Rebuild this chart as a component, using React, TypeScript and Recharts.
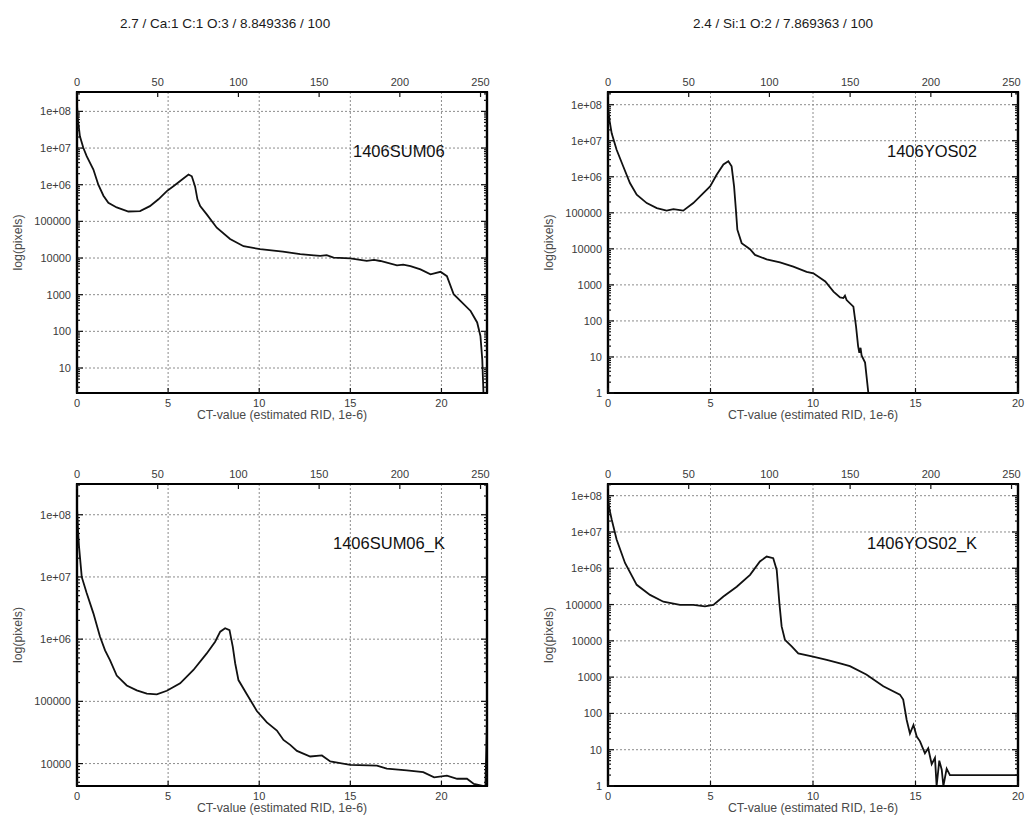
import React from 'react';
import { LineChart, Line, XAxis, YAxis, CartesianGrid, ReferenceArea } from 'recharts';

const FONT = '"Liberation Sans", Arial, Helvetica, sans-serif';

// ---- tick values and labels ----
const decadeValues = [1, 10, 100, 1000, 10000, 100000, 1e6, 1e7, 1e8];
const decadeLabels = ['1', '10', '100', '1000', '10000', '100000', '1e+06', '1e+07', '1e+08'];
const ctTicks = [0, 5, 10, 15, 20];
const binTicks = [0, 50, 100, 150, 200, 250];

// ---- 1406SUM06 ----
const sum06Ct = [0, 0.05, 0.16, 0.35, 0.53, 0.9, 1.17, 1.45, 1.72, 2.18, 2.82, 3.46, 4.0, 4.47, 4.93, 5.29, 5.75, 6.12, 6.3, 6.48, 6.61, 6.76, 7.12, 7.67, 8.4, 9.14, 10.05, 11.3, 12.25, 13.0, 13.35, 13.7, 14.08, 15.0, 15.9, 16.3, 16.65, 17.56, 17.9, 18.3, 18.85, 19.4, 19.95, 20.3, 20.67, 21.04, 21.6, 21.96, 22.14, 22.24, 22.33];
const sum06Pixels = [1.5e8, 6e7, 2.1e7, 1e7, 6e6, 2.6e6, 1e6, 5e5, 3.2e5, 2.4e5, 1.86e5, 1.9e5, 2.6e5, 4e5, 6.7e5, 9.1e5, 1.36e6, 1.9e6, 1.7e6, 9e5, 4e5, 2.6e5, 1.55e5, 6.7e4, 3.3e4, 2.1e4, 1.75e4, 1.5e4, 1.27e4, 1.18e4, 1.15e4, 1.2e4, 1.03e4, 9.8e3, 8.4e3, 8.9e3, 8.3e3, 6.3e3, 6.6e3, 6e3, 4.9e3, 3.6e3, 4.2e3, 3.2e3, 1.03e3, 680, 360, 175, 75, 17, 1];

// ---- 1406YOS02 ----
const yos02Ct = [0, 0.08, 0.18, 0.42, 0.75, 1.07, 1.4, 1.89, 2.38, 2.86, 3.19, 3.67, 4.16, 4.65, 4.98, 5.3, 5.63, 5.87, 6.03, 6.15, 6.24, 6.31, 6.52, 6.93, 7.17, 7.74, 8.39, 9.04, 9.69, 10.02, 10.6, 11.0, 11.32, 11.48, 11.56, 11.64, 11.97, 12.1, 12.2, 12.26, 12.32, 12.37, 12.54, 12.7];
const yos02Pixels = [9e7, 3.5e7, 1.6e7, 5.6e6, 1.9e6, 6.7e5, 3.2e5, 1.86e5, 1.35e5, 1.15e5, 1.26e5, 1.15e5, 1.86e5, 3.5e5, 5.4e5, 1.14e6, 2.2e6, 2.7e6, 1.95e6, 5.4e5, 1.2e5, 3.4e4, 1.44e4, 9.8e3, 6.8e3, 5.1e3, 4.2e3, 3.2e3, 2.3e3, 2.1e3, 1.25e3, 650, 450, 430, 500, 380, 250, 70, 20, 13, 18, 11, 7, 1];

// ---- 1406SUM06_K ----
const sum06kCt = [0, 0.05, 0.11, 0.26, 0.53, 0.9, 1.26, 1.54, 1.81, 2.18, 2.73, 3.28, 3.83, 4.38, 4.93, 5.66, 6.39, 7.12, 7.58, 7.86, 8.13, 8.37, 8.55, 8.68, 8.86, 9.32, 9.87, 10.42, 10.97, 11.33, 11.7, 12.07, 12.8, 13.44, 13.9, 15.0, 16.46, 17.0, 18.1, 19.0, 19.6, 20.3, 20.86, 21.4, 21.78, 22.24, 22.4, 22.5];
const sum06kPixels = [1.3e8, 6e7, 3.1e7, 1e7, 5.5e6, 2.6e6, 1.1e6, 6.6e5, 4.6e5, 2.6e5, 1.8e5, 1.5e5, 1.33e5, 1.3e5, 1.48e5, 1.95e5, 3.2e5, 5.9e5, 9.1e5, 1.32e6, 1.5e6, 1.4e6, 7.5e5, 4.1e5, 2.2e5, 1.3e5, 7e4, 4.6e4, 3.4e4, 2.4e4, 2e4, 1.6e4, 1.3e4, 1.35e4, 1.08e4, 9.5e3, 9.3e3, 8.3e3, 7.8e3, 7.3e3, 6e3, 6.4e3, 5.7e3, 5.7e3, 4.7e3, 4.4e3, 3e3, 5e4];

// ---- 1406YOS02_K ----
const yos02kCt = [0, 0.06, 0.18, 0.42, 0.83, 1.4, 2.05, 2.7, 3.51, 4.16, 4.73, 5.14, 5.63, 6.28, 6.93, 7.41, 7.74, 8.06, 8.23, 8.36, 8.47, 8.63, 8.96, 9.28, 10.0, 10.67, 11.32, 11.8, 12.6, 13.43, 14.24, 14.4, 14.57, 14.73, 14.9, 15.06, 15.22, 15.46, 15.62, 15.79, 15.95, 16.03, 16.16, 16.28, 16.36, 16.52, 16.68, 20];
const yos02kPixels = [9e7, 4.5e7, 2.2e7, 6.2e6, 1.4e6, 3.5e5, 1.85e5, 1.2e5, 9.8e4, 9.8e4, 8.9e4, 9.8e4, 1.67e5, 3.1e5, 6.6e5, 1.54e6, 2.1e6, 1.9e6, 9e5, 1.1e5, 2.5e4, 1.07e4, 7e3, 4.5e3, 3.7e3, 3e3, 2.4e3, 2e3, 1.18e3, 560, 330, 240, 66, 28, 48, 23, 17, 8, 11, 4, 6, 1, 5, 2.8, 1, 3, 2, 2];

const toRows = (ct: number[], px: number[]) => ct.map((c, i) => ({ ct: c, v: px[i] }));

// log-axis ticks: decades plus 2..9 minors inside the range
const logTicks = (lo: number, hi: number) => {
  const out: number[] = [];
  for (let e = -1; e <= 9; e++) {
    for (let m = 1; m <= 9; m++) {
      const v = m * Math.pow(10, e);
      if (v >= lo * 0.999 && v <= hi) out.push(Number(v.toPrecision(3)));
    }
  }
  return out;
};

const M = 3; // tick margin used to recover the axis line position
const isDecade = (v: number) => decadeValues.some((d) => Math.abs(d - v) / d < 1e-6);
const decadeLabel = (v: number) => decadeLabels[decadeValues.findIndex((d) => Math.abs(d - v) / d < 1e-6)];

const TICK_FILL = '#3a3a3a';

const LeftTick = (props: any) => {
  const { x, y, payload } = props;
  const v = payload.value;
  const ax = x + M;
  const major = isDecade(v);
  return (
    <g>
      <line x1={ax} x2={ax + (major ? 6 : 3)} y1={y} y2={y} stroke="#111" strokeWidth={1.2} />
      {major && (
        <text x={ax - 6} y={y + 4} textAnchor="end" fontSize={11} fill={TICK_FILL} fontFamily={FONT} stroke="none">
          {decadeLabel(v)}
        </text>
      )}
    </g>
  );
};

const RightTick = (props: any) => {
  const { x, y, payload } = props;
  const ax = x - M;
  const major = isDecade(payload.value);
  return <line x1={ax} x2={ax - (major ? 6 : 3)} y1={y} y2={y} stroke="#111" strokeWidth={1.2} />;
};

const BottomTick = (props: any) => {
  const { x, y, payload } = props;
  const ay = y - M;
  return (
    <g>
      <line x1={x} x2={x} y1={ay} y2={ay - 5} stroke="#111" strokeWidth={1.2} />
      <text x={x} y={ay + 14} textAnchor="middle" fontSize={11} fill={TICK_FILL} fontFamily={FONT} stroke="none">
        {payload.value}
      </text>
    </g>
  );
};

const TopTick = (props: any) => {
  const { x, y, payload } = props;
  const ay = y + M;
  return (
    <g>
      <line x1={x} x2={x} y1={ay} y2={ay + 5} stroke="#111" strokeWidth={1.2} />
      <text x={x} y={ay - 6.5} textAnchor="middle" fontSize={11} fill={TICK_FILL} fontFamily={FONT} stroke="none">
        {payload.value}
      </text>
    </g>
  );
};

const FRAME = '#000';
const FRAME_W = 2.2;
const AXIS_LINE = { stroke: FRAME, strokeWidth: FRAME_W };
const PLOT_W = 410;
const LEFT_W = 77;
const RIGHT_W = 13;
const TOP_H = 42;
const BOTTOM_H = 30;

type PanelProps = {
  left: number;
  top: number;
  plotH: number;
  ctMax: number;
  binMax: number;
  yDomain: [number, number];
  rows: { ct: number; v: number }[];
};

const Panel = ({ left, top, plotH, ctMax, binMax, yDomain, rows }: PanelProps) => {
  const allTicks = logTicks(yDomain[0], yDomain[1]);
  const gridTicks = decadeValues.filter((d) => d >= yDomain[0] && d <= yDomain[1]);
  return (
    <div style={{ position: 'absolute', left, top }}>
      <LineChart
        width={LEFT_W + PLOT_W + RIGHT_W}
        height={TOP_H + plotH + BOTTOM_H}
        data={rows}
        margin={{ top: 0, right: 0, bottom: 0, left: 0 }}
        style={{ fontFamily: FONT }}
      >
        <CartesianGrid
          xAxisId="bottom"
          yAxisId="grid"
          stroke="#8c8c8c"
          strokeDasharray="2 2"
          strokeWidth={1}
        />
        <YAxis
          yAxisId="grid"
          type="number"
          scale="log"
          domain={yDomain}
          ticks={gridTicks}
          interval={0}
          allowDataOverflow
          width={0}
          hide
        />
        <Line
          xAxisId="bottom"
          yAxisId="left"
          dataKey="v"
          type="linear"
          stroke="#111"
          strokeWidth={1.8}
          dot={false}
          activeDot={false}
          isAnimationActive={false}
        />
        {/* heavy plot frame */}
        <ReferenceArea
          xAxisId="bottom"
          yAxisId="left"
          x1={0}
          x2={ctMax}
          y1={yDomain[0]}
          y2={yDomain[1]}
          fill="none"
          fillOpacity={0}
          stroke={FRAME}
          strokeWidth={FRAME_W}
          strokeOpacity={1}
          ifOverflow="visible"
        />
        <XAxis
          xAxisId="bottom"
          dataKey="ct"
          type="number"
          domain={[0, ctMax]}
          ticks={ctTicks}
          interval={0}
          allowDataOverflow
          height={BOTTOM_H}
          tickSize={0}
          tickMargin={M}
          tick={(p: any) => <BottomTick {...p} />}
          stroke={FRAME}
          strokeWidth={FRAME_W}
          axisLine={AXIS_LINE}
          label={{
            value: 'CT-value (estimated RID, 1e-6)',
            position: 'insideBottom',
            offset: 4,
            style: { fontSize: 12.3, fill: '#4a4a4a', stroke: 'none', fontFamily: FONT },
          }}
        />
        <XAxis
          xAxisId="top"
          orientation="top"
          dataKey="ct"
          type="number"
          domain={[0, binMax]}
          ticks={binTicks}
          interval={0}
          allowDataOverflow
          height={TOP_H}
          tickSize={0}
          tickMargin={M}
          tick={(p: any) => <TopTick {...p} />}
          stroke={FRAME}
          strokeWidth={FRAME_W}
          axisLine={AXIS_LINE}
        />
        <YAxis
          yAxisId="left"
          type="number"
          scale="log"
          domain={yDomain}
          ticks={allTicks}
          interval={0}
          allowDataOverflow
          width={LEFT_W}
          tickSize={0}
          tickMargin={M}
          tick={(p: any) => <LeftTick {...p} />}
          stroke={FRAME}
          strokeWidth={FRAME_W}
          axisLine={AXIS_LINE}
          label={{
            value: 'log(pixels)',
            angle: -90,
            position: 'insideLeft',
            offset: 18,
            style: { textAnchor: 'middle', fontSize: 12.3, fill: '#4a4a4a', stroke: 'none', fontFamily: FONT },
          }}
        />
        <YAxis
          yAxisId="right"
          orientation="right"
          type="number"
          scale="log"
          domain={yDomain}
          ticks={allTicks}
          interval={0}
          allowDataOverflow
          width={RIGHT_W}
          tickSize={0}
          tickMargin={M}
          tick={(p: any) => <RightTick {...p} />}
          stroke={FRAME}
          strokeWidth={FRAME_W}
          axisLine={AXIS_LINE}
        />
      </LineChart>
    </div>
  );
};

const titleStyle = { fontSize: 13.5, fill: '#1a1a1a', fontFamily: FONT };
const sampleStyle = { fontSize: 16.5, fill: '#111', fontFamily: FONT };

export default function App() {
  return (
    <div style={{ position: 'absolute', left: 0, top: 0, width: 1026, height: 816, background: '#fff', overflow: 'hidden' }}>
      <Panel left={0} top={50} plotH={301} ctMax={22.5} binMax={254} yDomain={[2.08, 3.38e8]} rows={toRows(sum06Ct, sum06Pixels)} />
      <Panel left={531} top={50} plotH={301} ctMax={20} binMax={254} yDomain={[1, 2.25e8]} rows={toRows(yos02Ct, yos02Pixels)} />
      <Panel left={0} top={442} plotH={302} ctMax={22.5} binMax={254} yDomain={[4360, 3.12e8]} rows={toRows(sum06kCt, sum06kPixels)} />
      <Panel left={531} top={442} plotH={302} ctMax={20} binMax={254} yDomain={[1, 2.1e8]} rows={toRows(yos02kCt, yos02kPixels)} />
      <svg width={1026} height={816} style={{ position: 'absolute', left: 0, top: 0, pointerEvents: 'none' }}>
        <text x={120} y={28} style={titleStyle}>2.7 / Ca:1 C:1 O:3 / 8.849336 / 100</text>
        <text x={693} y={28} style={titleStyle}>2.4 / Si:1 O:2 / 7.869363 / 100</text>
        <text x={353} y={157} style={sampleStyle}>1406SUM06</text>
        <text x={887} y={157} style={sampleStyle}>1406YOS02</text>
        <text x={333} y={549} style={sampleStyle}>1406SUM06_K</text>
        <text x={867} y={549} style={sampleStyle}>1406YOS02_K</text>
      </svg>
    </div>
  );
}
